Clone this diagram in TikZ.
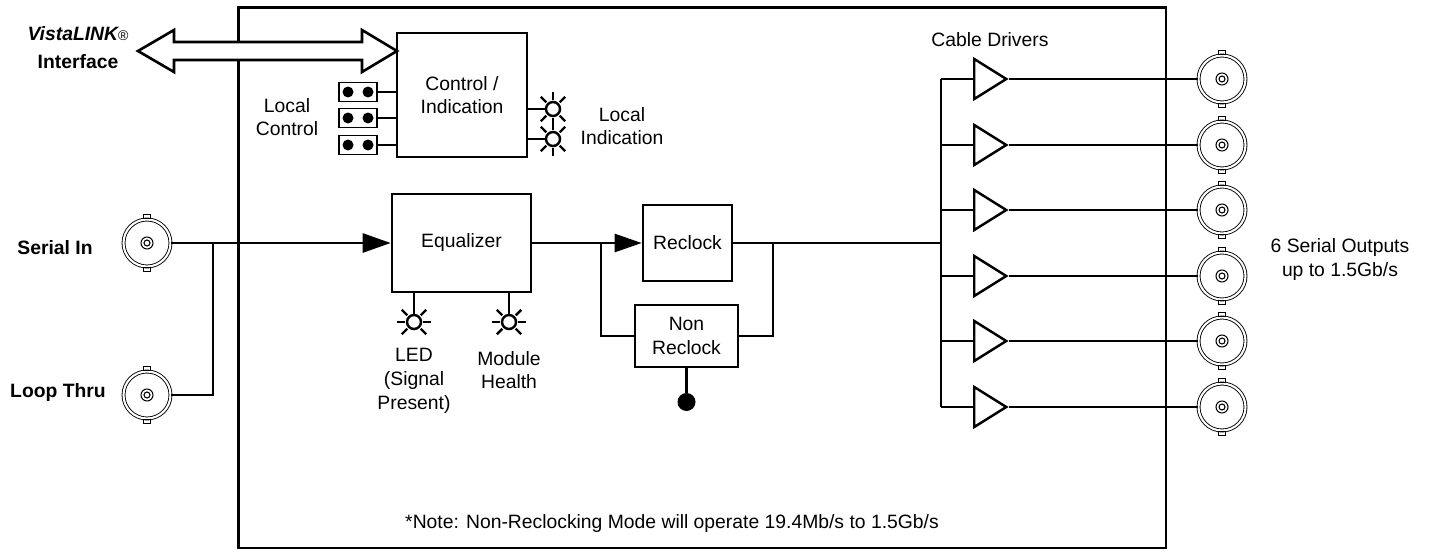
\documentclass[tikz,border=0pt]{standalone}
\usepackage{fontspec}
\setmainfont{Liberation Sans}
\usetikzlibrary{arrows.meta,calc,shapes.geometric}

\begin{document}
\begin{tikzpicture}[x=0.02cm,y=-0.02cm,
    font=\fontsize{11}{13.5}\selectfont,
    wire/.style={line width=1.5pt},
    block/.style={draw,line width=1.5pt,rectangle,inner sep=0pt,align=center},
    led/.style={draw,line width=1.4pt,circle,minimum size=0.28cm,inner sep=0pt},
    bnc/.style={draw,circle,line width=0.5pt,double,double distance=1.2pt,minimum size=0.94cm,inner sep=0pt},
    jumper/.style={draw,line width=1.1pt,rectangle,minimum width=0.76cm,minimum height=0.38cm,inner sep=0pt},
    driver/.style={draw,line width=1.4pt,isosceles triangle,isosceles triangle stretches,minimum width=0.8cm,minimum height=0.64cm,inner sep=0pt},
    arrowin/.style={-{Triangle[length=0.56cm,width=0.38cm]}},
    lbl/.style={align=center,inner sep=0pt}]
  \useasboundingbox (0,0) rectangle (1429,554);
  \draw[wire] (238.5,7.5) rectangle (1166,548);

  % control / indication
  \node[block,minimum width=2.6cm,minimum height=2.48cm] (ctrl) at (462,95) {Control /\\Indication};
  \foreach \i/\y in {1/92,2/118,3/145}{
    \node[jumper] (j\i) at (358,\y) {};
    \fill (j\i) ++(-0.2cm,0) circle (0.11cm) (j\i) ++(0.2cm,0) circle (0.11cm);
    \draw[line width=1.1pt] (j\i.east) -- (j\i.east -| ctrl.west);
  }
  \node[lbl] (lctl) at (287,117) {Local\\Control};
  \node[led] (l1) at (553,109) {};
  \node[led] (l2) at (553,139) {};
  \node[lbl] (lind) at (622,126) {Local\\Indication};

  % VistaLINK
  \coordinate (vl) at (397,51);
  \draw[wire,fill=white] (vl) -- ++(-35,-21) -- ++(0,12) -- ++(-188,0) -- ++(0,-12) -- ++(-36,21)
    -- ++(36,21) -- ++(0,-12) -- ++(188,0) -- ++(0,12) -- cycle;
  \node[lbl] (vista) at (78,34) {\bfseries\itshape VistaLINK{\mdseries\upshape\footnotesize\textregistered}};
  \node[lbl] (intf) at (78,62) {\bfseries Interface};

  % connectors
  \foreach \n/\x/\y in {sin/147/243,lt/147/395,o1/1222/79,o2/1222/145,o3/1222/210,o4/1222/276,o5/1222/341,o6/1222/407}{
    \node[bnc] (\n) at (\x,\y) {};
    \draw[line width=0.6pt] (\n) circle (0.12cm) (\n) circle (0.06cm);
    \draw[line width=0.6pt] (\n.north) ++(-0.07cm,0.02cm) rectangle ++(0.14cm,0.08cm)
      (\n.south) ++(-0.07cm,-0.02cm) rectangle ++(0.14cm,-0.08cm);
  }
  \node[lbl] (sinl) at (55,248) {\bfseries Serial In};
  \node[lbl] (ltl) at (58,392) {\bfseries Loop Thru};

  % signal path
  \node[block,minimum width=2.78cm,minimum height=1.96cm] (eq) at (461.5,243) {Equalizer};
  \node[led] (l3) at (414,322) {};
  \node[led] (l4) at (509,322) {};
  \node[lbl] (ledl) at (414,381) {LED\\(Signal\\Present)};
  \node[lbl] (modl) at (509,370) {Module\\Health};
  \node[block,minimum width=1.78cm,minimum height=1.52cm] (rc) at (687.5,243) {Reclock};
  \node[block,minimum width=2.06cm,minimum height=1.24cm] (nrc) at (686.5,336) {Non\\Reclock};
  \node[circle,fill,minimum size=0.36cm,inner sep=0pt] (gnd) at (686.5,402) {};

  \coordinate (tap) at (213,243);
  \coordinate (split) at (601,243);
  \coordinate (merge) at (773,243);
  \coordinate (bus) at (941,243);

  \path[wire]
    (sin) edge[arrowin] (eq)
    (eq) edge (split)
    (split) edge[-{Triangle[length=0.54cm,width=0.36cm]}] (rc)
    (rc) edge (bus)
    (nrc) edge (gnd)
    (ctrl.east |- l1) edge (l1)
    (ctrl.east |- l2) edge (l2)
    (eq.south -| l3) edge (l3)
    (eq.south -| l4) edge (l4);
  \draw[wire] (tap) |- (lt);
  \draw[wire] (split) |- (nrc);
  \draw[wire] (merge) |- (nrc);

  \foreach \l/\p/\q in {l1/90/270,l2/90/270,l3/0/180,l4/0/180}
    \foreach \b in {45,135,225,315,\p,\q}
      \draw[line width=1.4pt] ($(\l)!1.15!(\l.\b)$) -- ($(\l)!2.1!(\l.\b)$);

  % cable drivers
  \node[lbl] (cdl) at (990,40) {Cable Drivers};
  \foreach \i/\y in {1/79,2/145,3/210,4/276,5/341,6/407}{
    \node[driver,anchor=west] (d\i) at (973,\y) {};
    \draw[wire] (bus |- d\i) -- (d\i.west);
    \draw[wire] (d\i.apex) -- (o\i);
  }
  \draw[wire] (bus |- d1) -- (bus |- d6);
  \node[lbl] (outl) at (1340,259.5) {6 Serial Outputs\\up to 1.5Gb/s};

  \node[lbl] (note) at (672,523) {*Note: Non-Reclocking Mode will operate 19.4Mb/s to 1.5Gb/s};
\end{tikzpicture}
\end{document}
